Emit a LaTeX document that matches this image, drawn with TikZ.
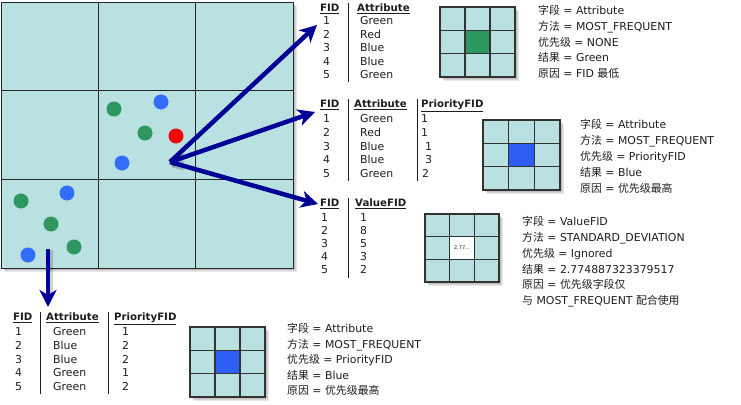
\documentclass[tikz,border=0pt]{standalone}
\usepackage{fontspec}
\setmainfont{DejaVu Sans}
\newfontfamily\cjk{Noto Sans CJK SC}
\usetikzlibrary{arrows.meta,calc}
\definecolor{cellc}{RGB}{186,225,225}
\definecolor{navyc}{RGB}{0,0,150}
\definecolor{gdot}{RGB}{46,150,95}
\definecolor{bdot}{RGB}{50,110,250}
\definecolor{rdot}{RGB}{250,0,0}
\definecolor{bcell}{RGB}{45,95,245}
\definecolor{txtc}{RGB}{30,30,30}
\newcommand\fsz{\fontsize{10.9}{12}\selectfont}
\newcommand\zh[1]{{\cjk #1}}
\newcommand\softshadow[4]{%
  \foreach \k in {1,2,3,4}{\fill[black,opacity=0.09] (#1+\k,#2+\k) rectangle (#3+\k,#4+\k);}}
\newcommand\smallgrid[5]{% x1 y1 x2 y2 centercolor
  \softshadow{#1}{#2}{#3}{#4}
  \fill[cellc] (#1,#2) rectangle (#3,#4);
  \fill[#5] ({#1+(#3-#1)/3},{#2+(#4-#2)/3}) rectangle ({#1+2*(#3-#1)/3},{#2+2*(#4-#2)/3});
  \draw[sgline] (#1,#2) rectangle (#3,#4);
  \draw[sgline] ({#1+(#3-#1)/3},#2) -- ({#1+(#3-#1)/3},#4)
                ({#1+2*(#3-#1)/3},#2) -- ({#1+2*(#3-#1)/3},#4)
                (#1,{#2+(#4-#2)/3}) -- (#3,{#2+(#4-#2)/3})
                (#1,{#2+2*(#4-#2)/3}) -- (#3,{#2+2*(#4-#2)/3});}
\begin{document}
\begin{tikzpicture}[x=1pt,y=-1pt,
  txt/.style={font=\fsz, anchor=mid west, inner sep=0pt, text=txtc},
  hdr/.style={font=\fontsize{10.2}{12}\selectfont\bfseries, anchor=mid west, inner sep=0pt, text=txtc},
  divline/.style={draw=txtc, line width=0.9pt},
  sgline/.style={draw=black!80, line width=1.4pt},
  bgline/.style={draw=black!85, line width=0.9pt},
  arr/.style={draw=navyc, line width=4.5pt, -{Stealth[length=17pt,width=17pt,inset=5pt]}},
  arrsh/.style={draw=black, opacity=0.18, line width=4.5pt}]
\useasboundingbox (0,0) rectangle (741,404);
% big grid
\softshadow{1}{2}{293}{268}
\fill[cellc] (1,2) rectangle (293,268);
\draw[bgline] (98,2) -- (98,268) (195,2) -- (195,268) (1,90) -- (293,90) (1,179) -- (293,179);
\draw[bgline] (1,2) rectangle (293,268);
% dots
\fill[gdot] (114,109) circle (7.5);
\fill[bdot] (161,102) circle (7.5);
\fill[gdot] (145,133) circle (7.5);
\fill[rdot] (176,136) circle (7.5);
\fill[bdot] (122,163) circle (7.5);
\fill[bdot] (67,193) circle (7.5);
\fill[gdot] (21,201) circle (7.5);
\fill[gdot] (51,224) circle (7.5);
\fill[gdot] (74,247) circle (7.5);
\fill[bdot] (28,255) circle (7.5);
% arrows
\coordinate (o) at (170,162);
\coordinate (e1) at (317,25);
\coordinate (e2) at (315,112);
\coordinate (e3) at (318,204);
\coordinate (s4) at (48,249);
\coordinate (e4) at (48,307);
\draw[arrsh] ($(o)+(2,3)$) -- ($(e1)!0.92!(o)+(2,3)$);
\draw[arrsh] ($(o)+(2,3)$) -- ($(e2)!0.92!(o)+(2,3)$);
\draw[arrsh] ($(o)+(2,3)$) -- ($(e3)!0.92!(o)+(2,3)$);
\draw[arrsh] ($(s4)+(3,1)$) -- ($(e4)+(3,-14)$);
\draw[arr] (o) -- (e1);
\draw[arr] (o) -- (e2);
\draw[arr] (o) -- (e3);
\draw[arr] (s4) -- (e4);
% table 1
\node[hdr] (t1h1) at (320,9) {\underline{FID}};
\node[hdr] (t1h2) at (357,9) {\underline{Attribute}};
\draw[divline] (348,3) -- (348,82);
\foreach \a/\b [count=\i] in {1/Green,2/Red,3/Blue,4/Blue,5/Green}{
  \node[txt] (t1a\i) at (323,{22+13.5*(\i-1)}) {\a};
  \node[txt] (t1b\i) at (360,{22+13.5*(\i-1)}) {\b};}
\smallgrid{440}{7}{515}{77}{gdot}
\foreach \t [count=\i] in {{\zh{字段} = Attribute},{\zh{方法} = MOST\_FREQUENT},{\zh{优先级} = NONE},{\zh{结果} = Green},{\zh{原因} = FID \zh{最低}}}
  \node[txt] (b1l\i) at (538,{12+15.75*(\i-1)}) {\t};
% table 2
\node[hdr] (t2h1) at (320,105) {\underline{FID}};
\node[hdr] (t2h2) at (354,105) {\underline{Attribute}};
\node[hdr] (t2h3) at (421,105) {\underline{PriorityFID}};
\draw[divline] (348,99) -- (348,181) (417,99) -- (417,181);
\foreach \a/\b/\c/\cx [count=\i] in {1/Green/1/421,2/Red/1/421,3/Blue/1/425,4/Blue/3/425,5/Green/2/422}{
  \node[txt] (t2a\i) at (323,{120+13.7*(\i-1)}) {\a};
  \node[txt] (t2b\i) at (360,{120+13.7*(\i-1)}) {\b};
  \node[txt] (t2c\i) at (\cx,{120+13.7*(\i-1)}) {\c};}
\smallgrid{483}{120}{560}{190}{bcell}
\foreach \t [count=\i] in {{\zh{字段} = Attribute},{\zh{方法} = MOST\_FREQUENT},{\zh{优先级} = PriorityFID},{\zh{结果} = Blue},{\zh{原因} = \zh{优先级最高}}}
  \node[txt] (b2l\i) at (580,{126+15.9*(\i-1)}) {\t};
% table 3
\node[hdr] (t3h1) at (320,204) {\underline{FID}};
\node[hdr] (t3h2) at (355,204) {\underline{ValueFID}};
\draw[divline] (348,198) -- (348,278);
\foreach \a/\b [count=\i] in {1/1,2/8,3/5,4/3,5/2}{
  \node[txt] (t3a\i) at (321,{219+13*(\i-1)}) {\a};
  \node[txt] (t3b\i) at (360,{219+13*(\i-1)}) {\b};}
\smallgrid{425}{214}{499}{282}{white}
\node[font=\fontsize{5}{6}\selectfont, inner sep=0pt, text=txtc] (g3c) at (462,248) {2.77...};
\foreach \t [count=\i] in {{\zh{字段} = ValueFID},{\zh{方法} = STANDARD\_DEVIATION},{\zh{优先级} = Ignored},{\zh{结果} = 2.774887323379517},{\zh{原因} = \zh{优先级字段仅}},{\zh{与} MOST\_FREQUENT \zh{配合使用}}}
  \node[txt] (b3l\i) at (522,{223+15.8*(\i-1)}) {\t};
% table 4
\node[hdr] (t4h1) at (13,318) {\underline{FID}};
\node[hdr] (t4h2) at (46,318) {\underline{Attribute}};
\node[hdr] (t4h3) at (114,318) {\underline{PriorityFID}};
\draw[divline] (40,312) -- (40,394) (108,312) -- (108,394);
\foreach \a/\b/\c [count=\i] in {1/Green/1,2/Blue/2,3/Blue/2,4/Green/1,5/Green/2}{
  \node[txt] (t4a\i) at (15,{333+13.75*(\i-1)}) {\a};
  \node[txt] (t4b\i) at (53,{333+13.75*(\i-1)}) {\b};
  \node[txt] (t4c\i) at (122,{333+13.75*(\i-1)}) {\c};}
\smallgrid{190}{327}{265}{397}{bcell}
\foreach \t [count=\i] in {{\zh{字段} = Attribute},{\zh{方法} = MOST\_FREQUENT},{\zh{优先级} = PriorityFID},{\zh{结果} = Blue},{\zh{原因} = \zh{优先级最高}}}
  \node[txt] (b4l\i) at (287,{330+15.5*(\i-1)}) {\t};
\end{tikzpicture}
\end{document}
